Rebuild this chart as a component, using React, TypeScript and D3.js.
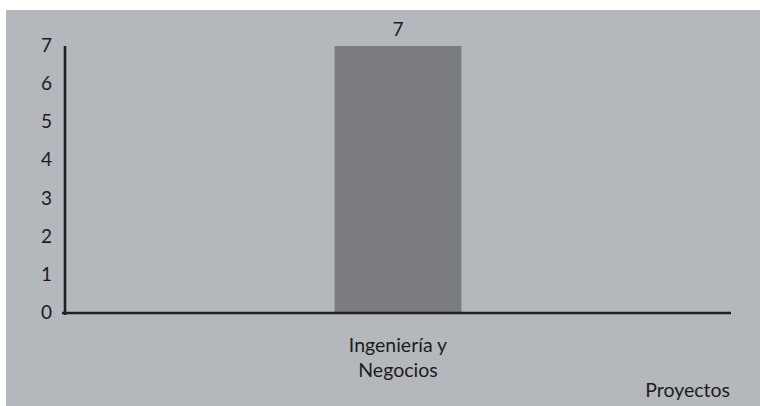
import React from "react";
import * as d3 from "d3";

const categories = ["Ingeniería y\nNegocios"];
const values = [7];
const yTicks = [0, 1, 2, 3, 4, 5, 6, 7];
const xAxisTitle = "Proyectos";

const W = 760;
const H = 406;
const FONT = "Lato, 'Open Sans', sans-serif";

export default function App() {
  const plot = { left: 65, right: 731, top: 46, bottom: 313 };
  const x = d3
    .scaleBand<string>()
    .domain(categories)
    .range([plot.left, plot.right])
    .paddingInner(0.68)
    .paddingOuter(0.68);
  const y = d3.scaleLinear().domain([0, 7]).range([plot.bottom, plot.top]);

  return (
    <svg
      width={W}
      height={H}
      style={{ position: "absolute", left: 0, top: 0, display: "block" }}
      fontFamily={FONT}
    >
      <rect x={0} y={0} width={W} height={H} fill="#ffffff" />
      <rect x={6} y={10} width={W - 6} height={H - 10} fill="#b4b7bc" />

      {categories.map((c, i) => {
        const bx = x(c) as number;
        const bw = x.bandwidth();
        const top = y(values[i]);
        const lines = c.split("\n");
        return (
          <g key={c}>
            <rect x={bx} y={top} width={bw} height={y(0) - top} fill="#7b7c81" />
            <text
              x={bx + bw / 2}
              y={top - 10.5}
              textAnchor="middle"
              fontSize={19}
              fill="#1c1c1c"
            >
              {values[i]}
            </text>
            {lines.map((l, j) => (
              <text
                key={j}
                x={bx + bw / 2}
                y={352 + j * 24.5}
                textAnchor="middle"
                fontSize={19.5}
                fill="#1c1c1c"
              >
                {l}
              </text>
            ))}
          </g>
        );
      })}

      {yTicks.map((t) => (
        <text
          key={t}
          x={52}
          y={y(t) + 6}
          textAnchor="end"
          fontSize={19}
          fill="#1c1c1c"
        >
          {t}
        </text>
      ))}

      <line
        x1={plot.left}
        x2={plot.left}
        y1={plot.top}
        y2={plot.bottom + 2}
        stroke="#221f20"
        strokeWidth={2.6}
      />
      <line
        x1={62}
        x2={plot.right}
        y1={plot.bottom}
        y2={plot.bottom}
        stroke="#221f20"
        strokeWidth={2.6}
      />

      <text
        x={730}
        y={396.5}
        textAnchor="end"
        fontSize={19.5}
        fill="#1c1c1c"
      >
        {xAxisTitle}
      </text>
    </svg>
  );
}
